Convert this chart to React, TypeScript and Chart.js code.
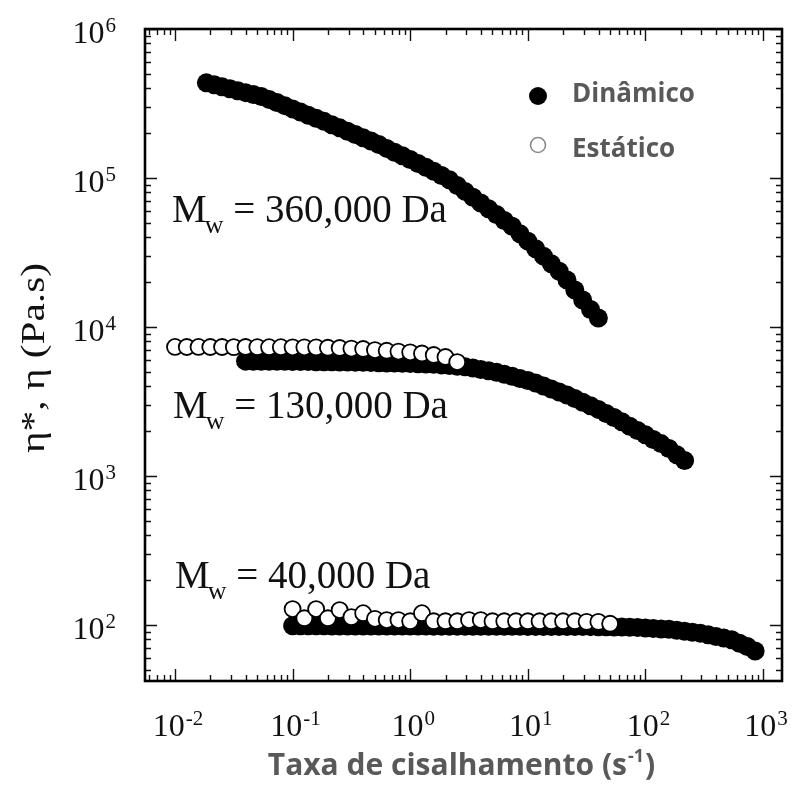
import React, { useEffect, useRef } from "react";
import { Chart, registerables } from "chart.js";

Chart.register(...registerables);

// ---------- data ----------
// Mw = 360,000 Da, dynamic (eta*)
const rate360kDyn = [
  0.01848, 0.02154, 0.02512, 0.02929, 0.03415, 0.03981, 0.04642, 0.05412, 0.0631, 0.07356, 0.08577,
  0.1, 0.1166, 0.1359, 0.1585, 0.1848, 0.2154, 0.2512, 0.2929, 0.3415, 0.3981, 0.4642, 0.5412, 0.631, 0.7356, 0.8577,
  1, 1.166, 1.359, 1.585, 1.848, 2.154, 2.512, 2.929, 3.415, 3.981, 4.642, 5.412, 6.31, 7.356, 8.577,
  10, 11.66, 13.59, 15.85, 18.48, 21.54, 25.12, 29.29, 34.15, 39.81,
];
const eta360kDyn = [
  435000, 422000, 409000, 397000, 385000, 374000, 363000, 352000, 337000, 321000,
  306000, 291000, 277000, 264000, 252000, 240000, 228000, 217000, 206000, 196000,
  186000, 177000, 168000, 158000, 149000, 141000, 133000, 125000, 118000, 111000,
  104000, 97300, 89100, 81300, 74300, 68000, 62200, 56900, 51900, 47500,
  42300, 37700, 33500, 29900, 26600, 23700, 20700, 17700, 15200, 13100, 11500,
];

// Mw = 130,000 Da, dynamic (eta*)
const rate130kDyn = [
  0.03981, 0.04642, 0.05412, 0.0631, 0.07356, 0.08577,
  0.1, 0.1166, 0.1359, 0.1585, 0.1848, 0.2154, 0.2512, 0.2929, 0.3415, 0.3981, 0.4642, 0.5412, 0.631, 0.7356, 0.8577,
  1, 1.166, 1.359, 1.585, 1.848, 2.154, 2.512, 2.929, 3.415, 3.981, 4.642, 5.412, 6.31, 7.356, 8.577,
  10, 11.66, 13.59, 15.85, 18.48, 21.54, 25.12, 29.29, 34.15, 39.81, 46.42, 54.12, 63.1, 73.56, 85.77,
  100, 116.6, 135.9, 158.5, 184.8, 215.4,
];
const eta130kDyn = [
  5900, 5890, 5890, 5890, 5880, 5880, 5870, 5870, 5860, 5850, 5840, 5840, 5830, 5820,
  5810, 5800, 5780, 5760, 5740, 5730, 5710, 5690,
  5670, 5650, 5630, 5570, 5520, 5460, 5410,
  5300, 5190, 5080, 4970, 4820, 4670, 4510, 4370, 4210, 4020, 3840, 3660, 3500, 3310,
  3130, 2960, 2800, 2630, 2470, 2310, 2160, 2020, 1890, 1760, 1650, 1530, 1390, 1270,
];

// Mw = 130,000 Da, steady (eta)
const rate130kSta = [
  0.01, 0.01259, 0.01585, 0.01995, 0.02512, 0.03162, 0.03981, 0.05012, 0.0631, 0.07943,
  0.1, 0.1259, 0.1585, 0.1995, 0.2512, 0.3162, 0.3981, 0.5012, 0.631, 0.7943,
  1, 1.259, 1.585, 1.995, 2.512,
];
const eta130kSta = [
  7350, 7340, 7350, 7340, 7340, 7330, 7340, 7330, 7320, 7320, 7310, 7310,
  7300, 7260, 7230, 7170, 7120, 7000, 6930, 6840, 6760, 6640, 6490, 6290, 5820,
];

// Mw = 40,000 Da, dynamic (eta*)
const rate40kDyn = [
  0.1, 0.1166, 0.1359, 0.1585, 0.1848, 0.2154, 0.2512, 0.2929, 0.3415, 0.3981, 0.4642, 0.5412, 0.631, 0.7356, 0.8577,
  1, 1.166, 1.359, 1.585, 1.848, 2.154, 2.512, 2.929, 3.415, 3.981, 4.642, 5.412, 6.31, 7.356, 8.577,
  10, 11.66, 13.59, 15.85, 18.48, 21.54, 25.12, 29.29, 34.15, 39.81, 46.42, 54.12, 63.1, 73.56, 85.77,
  100, 116.6, 135.9, 158.5, 184.8, 215.4, 251.2, 292.9, 341.5, 398.1, 464.2, 541.2, 631.0, 735.6, 857.7,
];
const eta40kDyn = [
  98.8, 98.8, 98.7, 98.7, 98.7, 98.6, 98.6, 98.6, 98.6, 98.5, 98.5, 98.5, 98.5, 98.5, 98.4,
  98.4, 98.4, 98.4, 98.3, 98.3, 98.3, 98.3, 98.2, 98.2, 98.2, 98.1, 98.1, 98.1, 98.0, 98.0,
  97.9, 97.9, 97.8, 97.8, 97.7, 97.7, 97.6, 97.6, 97.5, 97.4, 97.3, 97.1, 96.8, 96.5, 96.2,
  95.5, 94.7, 94.0, 93.7, 92.1, 90.9, 89.5, 88.2, 86.0, 83.8, 81.7, 79.6, 75.4, 71.7, 66.9,
];

// Mw = 40,000 Da, steady (eta)
const rate40kSta = [
  0.1, 0.1259, 0.1585, 0.1995, 0.2512, 0.3162, 0.3981, 0.5012, 0.631, 0.7943,
  1, 1.259, 1.585, 1.995, 2.512, 3.162, 3.981, 5.012, 6.31, 7.943,
  10, 12.59, 15.85, 19.95, 25.12, 31.62, 39.81, 50.12,
];
const eta40kSta = [
  128, 111, 128, 111, 126, 113, 120, 110, 108, 108,
  106, 120, 106, 106, 106, 108, 108, 106, 106, 106,
  106, 106, 106, 106, 106, 105, 105, 102,
];

// axis ranges and tick labels
const X_MIN = 0.005557;
const X_MAX = 1451;
const Y_MIN = 42.1;
const Y_MAX = 1e6;
const xTickExponents = ["-2", "-1", "0", "1", "2", "3"];
const yTickExponents = ["2", "3", "4", "5", "6"];

const legendLabels = ["Dinâmico", "Estático"];
const mwLabels = ["360,000 Da", "130,000 Da", "40,000 Da"];
const xTitle = "Taxa de cisalhamento (s";
const xTitleSup = "-1";
const yTitle = "η*, η (Pa.s)";

// ---------- helpers ----------
const SERIF = '"Liberation Serif", "Times New Roman", serif';
const SANS = '"Open Sans", "Noto Sans", sans-serif';

function pts(xs: number[], ys: number[]) {
  return xs.map((x, i) => ({ x, y: ys[i] }));
}

function buildLogTicks(scale: any) {
  const ticks: any[] = [];
  const lo = Math.floor(Math.log10(scale.min));
  const hi = Math.ceil(Math.log10(scale.max));
  for (let e = lo; e <= hi; e++) {
    for (let m = 1; m <= 9; m++) {
      const v = m * Math.pow(10, e);
      if (v >= scale.min * 0.9999 && v <= scale.max * 1.0001) ticks.push({ value: v, major: m === 1 });
    }
  }
  scale.ticks = ticks;
}

function powWidth(ctx: CanvasRenderingContext2D, exp: string) {
  ctx.font = `32px ${SERIF}`;
  const b = ctx.measureText("10").width;
  ctx.font = `21px ${SERIF}`;
  const e = ctx.measureText(exp).width;
  return { b, e, total: b + 1 + e };
}

function drawPow(ctx: CanvasRenderingContext2D, exp: string, left: number, baseline: number) {
  const w = powWidth(ctx, exp);
  ctx.font = `32px ${SERIF}`;
  ctx.textAlign = "left";
  ctx.textBaseline = "alphabetic";
  ctx.fillText("10", left, baseline);
  ctx.font = `21px ${SERIF}`;
  ctx.fillText(exp, left + w.b + 1, baseline - 11);
}

const framePlugin = {
  id: "framePlugin",
  afterDatasetsDraw(chart: any) {
    const { ctx, chartArea: a, scales } = chart;
    const xs = scales.x;
    const ys = scales.y;
    ctx.save();

    // inner ticks on all four sides
    ctx.strokeStyle = "#111";
    ctx.lineWidth = 1.4;
    ctx.beginPath();
    xs.ticks.forEach((t: any) => {
      const px = Math.round(xs.getPixelForValue(t.value)) + 0.5;
      const len = t.major ? 12 : 6;
      ctx.moveTo(px, a.bottom);
      ctx.lineTo(px, a.bottom - len);
      ctx.moveTo(px, a.top);
      ctx.lineTo(px, a.top + len);
    });
    ys.ticks.forEach((t: any) => {
      const py = Math.round(ys.getPixelForValue(t.value)) + 0.5;
      const len = t.major ? 12 : 6;
      ctx.moveTo(a.left, py);
      ctx.lineTo(a.left + len, py);
      ctx.moveTo(a.right, py);
      ctx.lineTo(a.right - len, py);
    });
    ctx.stroke();

    // frame
    ctx.lineWidth = 2.6;
    ctx.strokeStyle = "#000";
    ctx.strokeRect(a.left, a.top, a.right - a.left, a.bottom - a.top);

    // tick labels
    ctx.fillStyle = "#111";
    const xMajors = xs.ticks.filter((t: any) => t.major);
    xMajors.forEach((t: any, i: number) => {
      const exp = xTickExponents[i];
      if (exp === undefined) return;
      const px = xs.getPixelForValue(t.value);
      const w = powWidth(ctx, exp);
      drawPow(ctx, exp, px - w.total / 2 + 3, a.bottom + 55);
    });
    const yMajors = ys.ticks.filter((t: any) => t.major);
    yMajors.forEach((t: any, i: number) => {
      const exp = yTickExponents[i];
      if (exp === undefined) return;
      const py = ys.getPixelForValue(t.value);
      const w = powWidth(ctx, exp);
      drawPow(ctx, exp, a.left - 29 - w.total, py + 14);
    });

    // Mw annotations
    const mwPos = [
      { x: a.left + 27, y: a.top + 193 },
      { x: a.left + 28, y: a.top + 389 },
      { x: a.left + 30, y: a.top + 559 },
    ];
    mwLabels.forEach((txt, i) => {
      const p = mwPos[i];
      ctx.textAlign = "left";
      ctx.textBaseline = "alphabetic";
      ctx.fillStyle = "#111";
      ctx.font = `39px ${SERIF}`;
      ctx.fillText("M", p.x, p.y);
      const mW = ctx.measureText("M").width;
      ctx.font = `26px ${SERIF}`;
      ctx.fillText("w", p.x + mW - 2, p.y + 11);
      const wW = ctx.measureText("w").width;
      ctx.font = `39px ${SERIF}`;
      ctx.fillText(" = " + txt, p.x + mW - 2 + wW, p.y);
    });

    // legend (inside plot)
    const lx = 538;
    ctx.fillStyle = "#000";
    ctx.beginPath();
    ctx.arc(lx, 96, 9, 0, Math.PI * 2);
    ctx.fill();
    ctx.strokeStyle = "#8a8a8a";
    ctx.lineWidth = 1.6;
    ctx.beginPath();
    ctx.arc(lx, 145, 7.5, 0, Math.PI * 2);
    ctx.stroke();
    ctx.fillStyle = "#595959";
    ctx.font = `bold 26px ${SANS}`;
    ctx.textAlign = "left";
    ctx.fillText(legendLabels[0], 572, 102);
    ctx.fillText(legendLabels[1], 572, 157);

    // x title
    ctx.font = `bold 30px ${SANS}`;
    const mainW = ctx.measureText(xTitle).width;
    ctx.font = `bold 18px ${SANS}`;
    const supW = ctx.measureText(xTitleSup).width;
    ctx.font = `bold 30px ${SANS}`;
    const closeW = ctx.measureText(")").width;
    const totalW = mainW + supW + 2 + closeW;
    const cx = (a.left + a.right) / 2 - 2;
    let tx = cx - totalW / 2;
    const tb = 775;
    ctx.fillText(xTitle, tx, tb);
    tx += mainW;
    ctx.font = `bold 18px ${SANS}`;
    ctx.fillText(xTitleSup, tx + 1, tb - 13);
    tx += supW + 2;
    ctx.font = `bold 30px ${SANS}`;
    ctx.fillText(")", tx, tb);

    // y title (rotated)
    ctx.save();
    ctx.translate(35, 358);
    ctx.rotate(-Math.PI / 2);
    ctx.font = `34px ${SERIF}`;
    const yw = ctx.measureText(yTitle).width;
    ctx.scale(190 / yw, 1);
    ctx.fillStyle = "#111";
    ctx.textAlign = "center";
    ctx.textBaseline = "middle";
    ctx.fillText(yTitle, 0, 0);
    ctx.restore();

    ctx.restore();
  },
};

export default function App() {
  const ref = useRef<HTMLCanvasElement | null>(null);

  useEffect(() => {
    if (!ref.current) return;
    const filled = {
      pointRadius: 9.5,
      pointBackgroundColor: "#000",
      pointBorderColor: "#000",
      pointBorderWidth: 0,
      showLine: false,
      order: 2,
    };
    const open = {
      pointRadius: 8,
      pointBackgroundColor: "#fff",
      pointBorderColor: "#000",
      pointBorderWidth: 1.8,
      showLine: false,
      order: 1,
    };
    const chart = new Chart(ref.current, {
      type: "scatter",
      data: {
        datasets: [
          { label: "Dinâmico 360k", data: pts(rate360kDyn, eta360kDyn), ...filled },
          { label: "Dinâmico 130k", data: pts(rate130kDyn, eta130kDyn), ...filled },
          { label: "Dinâmico 40k", data: pts(rate40kDyn, eta40kDyn), ...filled },
          { label: "Estático 130k", data: pts(rate130kSta, eta130kSta), ...open },
          { label: "Estático 40k", data: pts(rate40kSta, eta40kSta), ...open },
        ] as any,
      },
      options: {
        responsive: false,
        animation: false,
        devicePixelRatio: 1,
        layout: { padding: { top: 29, right: 11, left: 0, bottom: 0 } },
        plugins: { legend: { display: false }, tooltip: { enabled: false } },
        scales: {
          x: {
            type: "logarithmic",
            min: X_MIN,
            max: X_MAX,
            bounds: "data",
            grid: { display: false },
            border: { display: false },
            ticks: { display: false },
            afterBuildTicks: buildLogTicks,
            afterFit: (s: any) => {
              s.height = 122;
            },
          },
          y: {
            type: "logarithmic",
            min: Y_MIN,
            max: Y_MAX,
            bounds: "data",
            grid: { display: false },
            border: { display: false },
            ticks: { display: false },
            afterBuildTicks: buildLogTicks,
            afterFit: (s: any) => {
              s.width = 145;
            },
          },
        },
      } as any,
      plugins: [framePlugin],
    });
    return () => chart.destroy();
  }, []);

  return (
    <div style={{ position: "absolute", left: 0, top: 0, width: 793, height: 803, background: "#fff" }}>
      <canvas ref={ref} width={793} height={803} style={{ display: "block", width: 793, height: 803 }} />
    </div>
  );
}
